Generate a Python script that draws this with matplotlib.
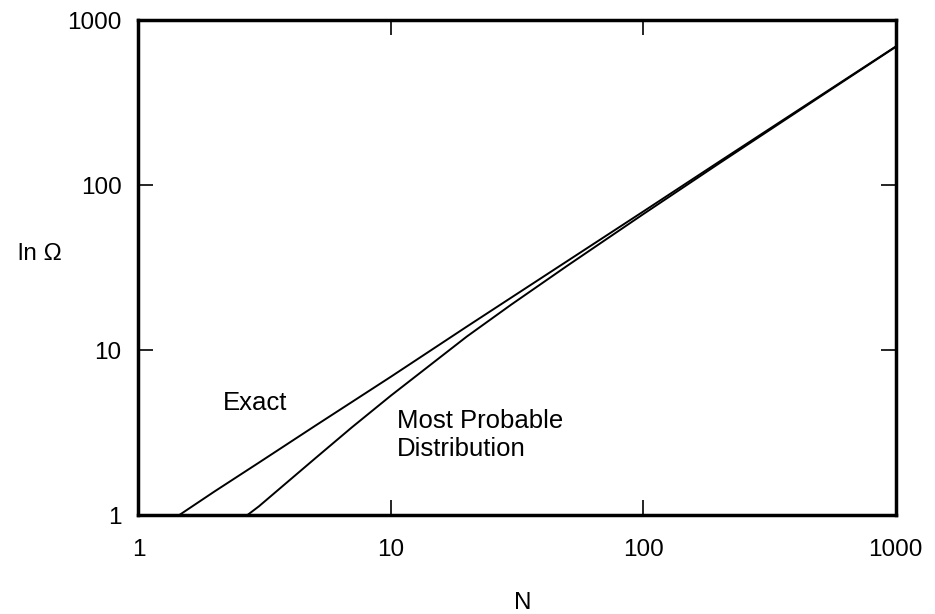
import matplotlib.pyplot as plt

# values (log-log)
n_exact = [1.45, 2, 3, 5, 10, 20, 50, 100, 200, 500, 1000]
ln_omega_exact = [1.0, 1.39, 2.08, 3.47, 6.9, 13.9, 34.7, 69.3, 139, 347, 693]

n_mpd = [2.7, 3, 5, 7, 10, 20, 30, 50, 100, 200, 500, 1000]
ln_omega_mpd = [1.0, 1.13, 2.2, 3.4, 5.3, 12.1, 18.9, 32.5, 66.8, 135.8, 343, 690]

tick_vals = [1, 10, 100, 1000]
tick_labels = ['1', '10', '100', '1000']

plt.rcParams['font.family'] = ['Liberation Sans', 'DejaVu Sans']

fig = plt.figure(figsize=(9.35, 6.14), dpi=100)
ax = fig.add_axes([0.148, 0.161, 0.81, 0.806])

ax.plot(n_exact, ln_omega_exact, color='black', lw=1.4)
ax.plot(n_mpd, ln_omega_mpd, color='black', lw=1.4)

ax.set_xscale('log')
ax.set_yscale('log')
ax.set_xlim(1, 1000)
ax.set_ylim(1, 1000)

ax.set_xticks(tick_vals)
ax.set_xticklabels(tick_labels)
ax.set_yticks(tick_vals)
ax.set_yticklabels(tick_labels)
ax.minorticks_off()
ax.tick_params(which='major', direction='in', length=11, width=1.2,
               top=True, right=True, labelsize=17.5)
ax.tick_params(axis='x', pad=17)
ax.tick_params(axis='y', pad=12)

for sp in ax.spines.values():
    sp.set_linewidth(2.5)

ax.set_xlabel('N', fontsize=17.5)
ax.xaxis.set_label_coords(0.508, -0.155)
ax.set_ylabel('ln Ω', fontsize=17.5, rotation=0)
ax.yaxis.set_label_coords(-0.13, 0.505)

ax.text(2.9, 4.8, 'Exact', fontsize=18.5, ha='center', va='center')
ax.text(10.6, 3.05, 'Most Probable\nDistribution', fontsize=18.5,
        ha='left', va='center', linespacing=1.2)

fig.savefig('out.png', dpi=100)
